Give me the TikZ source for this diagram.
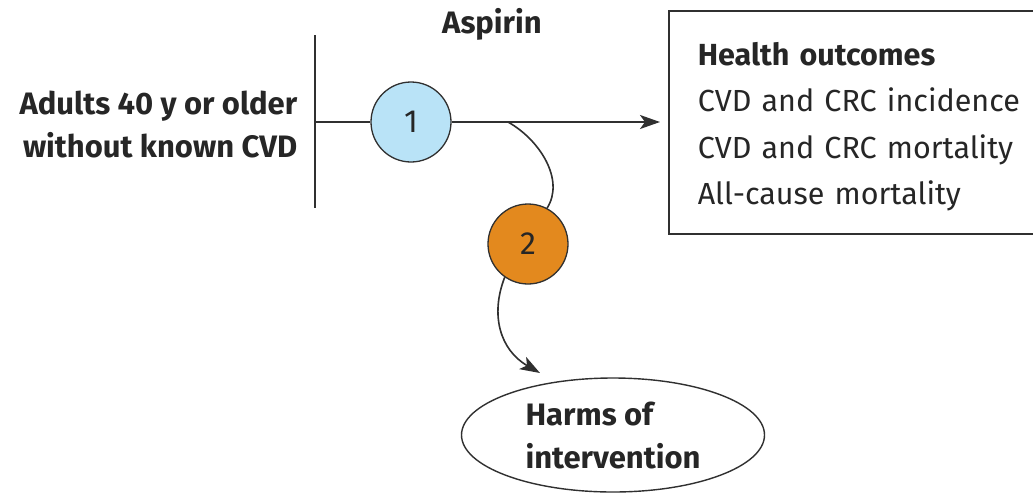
\documentclass[tikz,border=0pt]{standalone}
\usepackage{fontspec}
\setmainfont{Fira Sans}
\usetikzlibrary{arrows.meta,shapes.geometric}
\definecolor{cblue}{HTML}{B9E3F7}
\definecolor{corange}{HTML}{E3891E}
\definecolor{lnc}{HTML}{303030}
\definecolor{txc}{HTML}{262626}
\begin{document}
\begin{tikzpicture}[x=1pt,y=-1pt,
  line width=1.6pt, draw=lnc,
  txt/.style={font=\fontsize{30.5}{46.5}\selectfont, inner sep=0pt, text=txc},
  btxt/.style={font=\fontsize{31}{43}\selectfont\bfseries, inner sep=0pt, text=txc},
  circ/.style={circle, draw=lnc, line width=1.3pt, minimum size=80pt, inner sep=0pt,
    font=\fontsize{32}{34}\selectfont, text=txc},
  arr/.style={-{Stealth[length=20pt,width=14pt,inset=5pt]}}
]
\clip (0,0) rectangle (1033,496);
\fill[white] (0,0) rectangle (1033,496);

\coordinate (bartop) at (315,35);
\coordinate (barbot) at (315,208);
\coordinate (barmid) at (315,122);
\coordinate (branch) at (508,122);
\coordinate (tip) at (540,373);

\node[btxt, anchor=base] (asp) at (492,33) {Aspirin};
\node[btxt, align=right, anchor=east] (pop) at (298,124) {Adults 40 y or older\\without known CVD};

\node[circ, fill=cblue] (c1) at (411,122) {1};
\node[circ, fill=corange] (c2) at (528,244) {2};

\node[txt, draw=lnc, line width=1.5pt, anchor=north west, text width=342pt, inner xsep=29pt,
  minimum height=223pt, align=left] (box) at (668,10)
  {\rule{0pt}{32pt}\textbf{Health outcomes}\\CVD and CRC incidence\\CVD and CRC mortality\\All-cause mortality};

\node[btxt, ellipse, draw=lnc, line width=1.4pt, minimum width=303pt, minimum height=114pt,
  align=left] (harm) at (613,435) {Harms of\\intervention};

\draw (bartop) -- (barbot);
\draw (barmid) -- (c1);
\draw[arr, shorten >=8pt] (c1) -- (c1 -| box.west);
\draw (branch) .. controls (540,140) and (565,180) .. (c2.62);
\draw[arr] (c2.235) .. controls (490,315) and (500,350) .. (tip);
\end{tikzpicture}
\end{document}
